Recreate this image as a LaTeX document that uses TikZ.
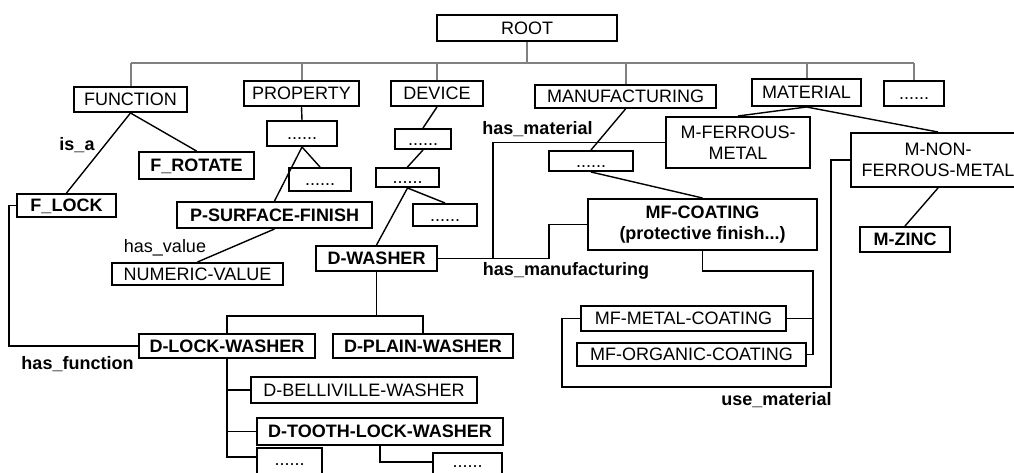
\documentclass[tikz,border=0pt]{standalone}
\usepackage{fontspec}
\setmainfont{Liberation Sans}
\usetikzlibrary{calc}
\newcommand\fsz{\fontsize{18}{21}\selectfont}
\begin{document}
\begin{tikzpicture}[x=1pt,y=-1pt,
  nbox/.style={draw, line width=2pt, inner sep=0pt, font=\fsz, text height=12.8pt, text depth=0pt},
  bnbox/.style={nbox, font=\fsz\bfseries},
  tbox/.style={draw, line width=2pt, inner sep=0pt, align=center, font=\fsz},
  btbox/.style={tbox, font=\fsz\bfseries},
  conn/.style={line width=1.4pt},
  bus/.style={line width=2pt, draw=gray},
  lbl/.style={inner sep=0pt, anchor=base, font=\fsz},
  blbl/.style={lbl, font=\fsz\bfseries}]
\useasboundingbox (0,0) rectangle (1014,473);
\clip (0,0) rectangle (1014,473);

% top level
\node[nbox, minimum width=180pt, minimum height=26pt] (root) at (527,28) {ROOT};
\node[nbox, minimum width=113pt, minimum height=25pt] (function) at (130.5,99.5) {FUNCTION};
\node[nbox, minimum width=115pt, minimum height=25pt] (property) at (301.5,93.5) {PROPERTY};
\node[nbox, minimum width=92pt, minimum height=25pt] (device) at (437,93.5) {DEVICE};
\node[nbox, minimum width=181pt, minimum height=23pt] (manufacturing) at (625.5,96.5) {MANUFACTURING};
\node[nbox, minimum width=109pt, minimum height=27pt] (material) at (806.5,92.5) {MATERIAL};
\node[nbox, minimum width=60pt, minimum height=25pt] (topdots) at (914,93.5) {......};

% function branch
\node[bnbox, minimum width=115pt, minimum height=27pt] (frotate) at (196.5,165.5) {F\_ROTATE};
\node[bnbox, minimum width=99pt, minimum height=23pt] (flock) at (66.5,205.5) {F\_LOCK};

% property branch
\node[nbox, minimum width=70pt, minimum height=25pt] (pdotsa) at (302,133.5) {......};
\node[nbox, minimum width=62pt, minimum height=23pt] (pdotsb) at (320,179.5) {......};
\node[bnbox, minimum width=195pt, minimum height=26pt] (psurf) at (274.5,215) {P-SURFACE-FINISH};
\node[nbox, minimum width=171pt, minimum height=22pt] (numeric) at (197.5,274) {NUMERIC-VALUE};

% device branch
\node[nbox, minimum width=56pt, minimum height=20pt] (ddotsa) at (423,139) {......};
\node[nbox, minimum width=63pt, minimum height=19pt] (ddotsb) at (407.5,177.5) {......};
\node[nbox, minimum width=64pt, minimum height=22pt] (ddotsc) at (445,215) {......};
\node[bnbox, minimum width=121pt, minimum height=25pt] (dwasher) at (376.5,258.5) {D-WASHER};
\node[bnbox, minimum width=176pt, minimum height=24pt] (dlock) at (227,346) {D-LOCK-WASHER};
\node[bnbox, minimum width=180pt, minimum height=24pt] (dplain) at (423,346) {D-PLAIN-WASHER};
\node[nbox, minimum width=226pt, minimum height=26pt] (dbell) at (364,390) {D-BELLIVILLE-WASHER};
\node[bnbox, minimum width=246pt, minimum height=27pt] (dtooth) at (380,431.5) {D-TOOTH-LOCK-WASHER};
\node[nbox, text depth=10.5pt, minimum width=65pt, minimum height=32pt] (bdotsa) at (289.5,464) {......};
\node[nbox, text depth=16.5pt, minimum width=69pt, minimum height=32pt] (bdotsb) at (467.5,469) {......};

% manufacturing branch
\node[nbox, minimum width=84pt, minimum height=20pt] (mdots) at (591,161) {......};
\node[btbox, minimum width=229pt, minimum height=51pt] (mfcoating) at (702.5,224.5) {MF-COATING\\(protective finish...)};
\node[nbox, minimum width=205pt, minimum height=25pt] (mfmetal) at (683.5,318.5) {MF-METAL-COATING};
\node[nbox, minimum width=229pt, minimum height=23pt] (mforganic) at (691.5,354.5) {MF-ORGANIC-COATING};

% material branch
\node[tbox, minimum width=144pt, minimum height=51pt] (mferrous) at (738,142.5) {M-FERROUS-\\METAL};
\node[tbox, minimum width=174pt, minimum height=54pt] (mnon) at (938,160) {M-NON-\\FERROUS-METAL};
\node[bnbox, minimum width=90pt, minimum height=25pt] (mzinc) at (905,239.5) {M-ZINC};

% labels
\node[blbl] (isa) at (77,151) {is\_a};
\node[lbl] (hasvalue) at (165,252) {has\_value};
\node[blbl] (hasmaterial) at (537.5,135) {has\_material};
\node[blbl] (hasmanuf) at (566,275) {has\_manufacturing};
\node[blbl] (hasfunction) at (77.5,369) {has\_function};
\node[blbl] (usematerial) at (776.5,405) {use\_material};

% bus
\coordinate (busL) at (130.5,63);
\coordinate (busR) at (914,63);
\draw[bus] (busL) -- (busR);
\draw[bus] (root.south) -- (root.south |- busL);
\foreach \n in {function,property,device,manufacturing,material,topdots}
  \draw[bus] (\n.north) -- (\n.north |- busL);

% tree connectors
\draw[conn] (function.south) -- (flock.north);
\draw[conn] (function.south) -- (frotate.north);
\draw[conn] (property.south) -- (pdotsa.north);
\draw[conn] (pdotsa.south) -- (psurf.north);
\draw[conn] (pdotsa.south) -- (pdotsb.north);
\draw[conn] (psurf.south) -- (numeric.north);
\draw[conn] (device.south) -- (ddotsa.north);
\draw[conn] (ddotsa.south) -- (ddotsb.north);
\draw[conn] (ddotsb.south) -- (dwasher.north);
\draw[conn] (ddotsb.south) -- (ddotsc.north);
\draw[conn] (manufacturing.south) -- (mdots.north);
\draw[conn] (mdots.south) -- (mfcoating.north);
\draw[conn] (material.south) -- (mferrous.north);
\draw[conn] (material.south) -- (mnon.north);
\draw[conn] (mnon.south) -- (mzinc.north);

% washer tree
\coordinate (dj) at (376.5,316);
\draw[conn] (dwasher.south) -- (dj);
\draw[conn] (dlock.north) |- (dj) -| (dplain.north);
\draw[conn] (dlock.south) |- (dbell.west);
\draw[conn] (dlock.south) |- (dtooth.west);
\draw[conn] (dlock.south) |- ($(bdotsa.north west)+(0,10)$);
\draw[conn] (dtooth.south) |- ($(bdotsb.north west)+(0,10)$);

% has_function
\draw[conn] (flock.west) -- ++(-7,0) |- (dlock.west);

% coating tree
\coordinate (cj) at (813,271);
\draw[conn] (mfcoating.south) |- (cj) |- (mforganic.east);
\draw[conn] (mfmetal.east) -- (mfmetal.east -| cj);

% use_material
\coordinate (um) at (831,387);
\draw[conn] (mfmetal.west) -- ++(-18,0) |- (um) |- (mnon.west);

% has_material / has_manufacturing
\coordinate (hm) at (493,258.5);
\coordinate (hf) at (549,258.5);
\draw[conn] (mferrous.west) -| (hm) -- (dwasher.east);
\draw[conn] (hm) -- (hf) |- (mfcoating.west);
\end{tikzpicture}
\end{document}
